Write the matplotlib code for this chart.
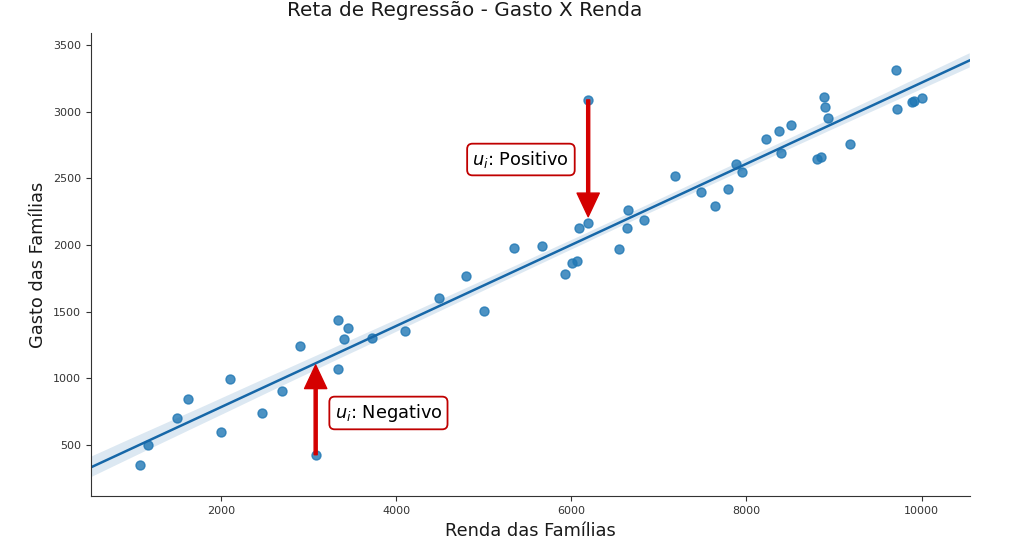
import matplotlib
matplotlib.use("Agg")
import matplotlib.pyplot as plt
import seaborn as sns
import pandas as pd

# renda (x) e gasto (y) das familias
renda = [1075, 1163, 1494, 1623, 2003, 2106, 2465, 2696, 2898, 3332,
         3332, 3408, 3450, 3724, 3081, 4100, 4492, 4800, 5002, 5348,
         5668, 5927, 6010, 6060, 6087, 6193, 6193, 6547, 6635, 6650,
         6825, 7183, 7476, 7636, 7784, 7879, 7955, 8218, 8373, 8510,
         8393, 8807, 8857, 8884, 8898, 8929, 9188, 9709, 9725, 9896,
         9915, 10002]
gasto = [350, 502, 700, 845, 597, 997, 740, 902, 1245, 1072,
         1435, 1293, 1377, 1302, 427, 1357, 1605, 1770, 1503, 1977,
         1990, 1780, 1863, 1882, 2130, 2167, 3088, 1968, 2130, 2265,
         2188, 2520, 2400, 2293, 2418, 2608, 2548, 2797, 2855, 2902,
         2692, 2643, 2658, 3113, 3035, 2950, 2758, 3311, 3018, 3073,
         3083, 3100]

# residuos destacados: (x, y do ponto, y da ponta da seta)
res_neg = (3081, 427, 1100)
res_pos = (6193, 3088, 2212)

dados = pd.DataFrame({"Y": gasto, "X": renda})

fig = plt.figure(figsize=(10.24, 5.46), dpi=100)
ax = fig.add_axes([0.0884, 0.091, 0.8586, 0.8486])
ax.set_xlim(510, 10550)
ax.set_ylim(115, 3590)

# banda de confianca mais estreita, como na figura original
sns.regplot(x="X", y="Y", data=dados, ax=ax, truncate=False, seed=1, ci=75,
            scatter_kws={"s": 42},
            line_kws={"lw": 1.8, "color": "#1667a8"})
ax.set_xlim(510, 10550)
ax.set_ylim(115, 3590)

fig.text(465 / 1024, 1 - 10 / 546, "Reta de Regressão - Gasto X Renda",
         fontsize=14.4, ha="center", va="center", color="#1a1a1a")
ax.set_xlabel("Renda das Famílias", fontsize=12.8, color="#1a1a1a")
ax.set_ylabel("Gasto das Famílias", fontsize=12.8, color="#1a1a1a")
ax.tick_params(labelsize=8, length=3.5, labelcolor="#333333", color="#333333")
for lado in ["left", "bottom"]:
    ax.spines[lado].set_color("#333333")
sns.despine(ax=ax)

seta = dict(facecolor="#d40000", edgecolor="#d40000", width=2.2,
            headwidth=16, headlength=17, shrink=0)
caixa = dict(boxstyle="round", facecolor="white", edgecolor="#c00000", lw=1.3)

ax.annotate("", xy=(res_neg[0], res_neg[2]), xytext=(res_neg[0], res_neg[1]),
            arrowprops=seta)
ax.annotate("", xy=(res_pos[0], res_pos[2]), xytext=(res_pos[0], res_pos[1]),
            arrowprops=seta)

ax.text(3912, 740, r"$u_i$: Negativo", fontsize=12.8, ha="center",
        va="center", bbox=caixa)
ax.text(5425, 2641, r"$u_i$: Positivo", fontsize=12.8, ha="center",
        va="center", bbox=caixa)

fig.savefig("out.png", dpi=100)
